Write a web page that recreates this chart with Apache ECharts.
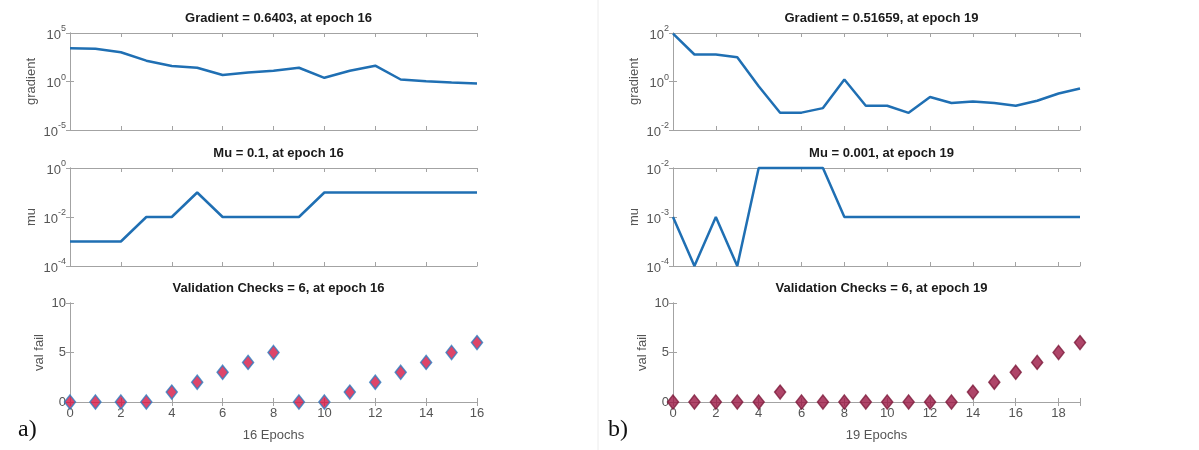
<!DOCTYPE html>
<html>
<head>
<meta charset="utf-8">
<script src="https://cdn.jsdelivr.net/npm/echarts@6/dist/echarts.min.js"></script>
<style>
  html, body { margin: 0; padding: 0; background: #fff; }
  #main { width: 1199px; height: 450px; }
</style>
</head>
<body>
<div id="main"></div>
<script>
// run a) : 16 epochs
const epochsA = [0, 1, 2, 3, 4, 5, 6, 7, 8, 9, 10, 11, 12, 13, 14, 15, 16];
const gradA = [2750, 2350, 1050, 140, 40, 26, 4.6, 8.7, 13, 26, 2.4, 13, 43, 1.6, 1.07, 0.8, 0.6403];
const muA = [0.001, 0.001, 0.001, 0.01, 0.01, 0.1, 0.01, 0.01, 0.01, 0.01, 0.1, 0.1, 0.1, 0.1, 0.1, 0.1, 0.1];
const valA = [0, 0, 0, 0, 1, 2, 3, 4, 5, 0, 0, 1, 2, 3, 4, 5, 6];

// run b) : 19 epochs
const epochsB = [0, 1, 2, 3, 4, 5, 6, 7, 8, 9, 10, 11, 12, 13, 14, 15, 16, 17, 18, 19];
const gradB = [95, 13, 13, 10, 0.64, 0.051, 0.052, 0.08, 1.2, 0.1, 0.1, 0.051, 0.23, 0.13, 0.15, 0.13, 0.1, 0.16, 0.32, 0.51659];
const muB = [0.001, 0.0001, 0.001, 0.0001, 0.01, 0.01, 0.01, 0.01, 0.001, 0.001, 0.001, 0.001, 0.001, 0.001, 0.001, 0.001, 0.001, 0.001, 0.001, 0.001];
const valB = [0, 0, 0, 0, 0, 1, 0, 0, 0, 0, 0, 0, 0, 0, 1, 2, 3, 4, 5, 6];

const titlesA = ['Gradient = 0.6403, at epoch 16', 'Mu = 0.1, at epoch 16', 'Validation Checks = 6, at epoch 16'];
const titlesB = ['Gradient = 0.51659, at epoch 19', 'Mu = 0.001, at epoch 19', 'Validation Checks = 6, at epoch 19'];

const font = '"Liberation Sans", Arial, sans-serif';
const boxColor = '#a3a3a3';
const lineColor = '#1f6fb3';
const labelColor = '#555';

const panelLeft = [70, 673];
const panelWidth = 407;
const rowTop = [33, 168, 303];
const rowHeight = [97, 98, 99];

function pairs(xs, ys) {
  return xs.map((x, i) => [x, ys[i]]);
}

function logLabel(v) {
  let e = Math.round(Math.log10(v));
  return '{b|10}{s|' + e + '}';
}

// MATLAB only labels the even epochs
function epochLabel(v) {
  return v % 2 === 0 ? String(v) : '';
}

let option = {
  animation: false,
  backgroundColor: '#fff',
  textStyle: { fontFamily: font },
  title: [],
  grid: [],
  xAxis: [],
  yAxis: [],
  series: [],
  graphic: [
    { type: 'line', shape: { x1: 598, y1: 0, x2: 598, y2: 450 }, style: { stroke: '#ececec', lineWidth: 1 } },
    { type: 'text', left: 18, top: 418, style: { text: 'a)', font: '24px "Liberation Serif", "Times New Roman", serif', fill: '#111' } },
    { type: 'text', left: 608, top: 418, style: { text: 'b)', font: '24px "Liberation Serif", "Times New Roman", serif', fill: '#111' } }
  ]
};

function addPanel(p, epochs, grad, mu, val, titles, yRanges, markerFill, markerEdge) {
  let maxEpoch = epochs[epochs.length - 1];
  for (let r = 0; r < 3; r++) {
    let gi = p * 3 + r;
    option.grid.push({
      left: panelLeft[p], top: rowTop[r], width: panelWidth, height: rowHeight[r],
      show: false
    });
    option.title.push({
      text: titles[r],
      left: panelLeft[p] + panelWidth / 2,
      top: rowTop[r] - 26,
      textAlign: 'center',
      textStyle: { fontSize: 13, fontWeight: 'bold', color: '#1a1a1a', fontFamily: font }
    });
    let isLast = r === 2;
    let xBase = {
      type: 'value', gridIndex: gi, min: 0, max: maxEpoch, interval: 2,
      axisLine: { show: true, lineStyle: { color: boxColor, width: 1 } },
      axisTick: { show: true, inside: true, length: 4, lineStyle: { color: boxColor } },
      splitLine: { show: false }
    };
    option.xAxis.push(Object.assign({}, xBase, {
      position: 'bottom',
      name: isLast ? maxEpoch + ' Epochs' : '',
      nameLocation: 'middle',
      nameGap: 27,
      nameTextStyle: { fontSize: 13, color: labelColor, fontFamily: font },
      axisLabel: { show: isLast, fontSize: 13, color: labelColor, margin: 5, fontFamily: font, formatter: epochLabel }
    }));
    option.xAxis.push(Object.assign({}, xBase, { position: 'top', axisLabel: { show: false } }));

    let range = yRanges[r];
    let yBase = {
      gridIndex: gi, min: range.min, max: range.max, interval: range.interval,
      axisLine: { show: true, lineStyle: { color: boxColor, width: 1 } },
      axisTick: { show: true, inside: true, length: 4, lineStyle: { color: boxColor } },
      splitLine: { show: false }
    };
    if (range.log) {
      yBase.type = 'log';
      yBase.logBase = 10;
    } else {
      yBase.type = 'value';
    }
    let yNames = ['gradient', 'mu', 'val fail'];
    option.yAxis.push(Object.assign({}, yBase, {
      position: 'left',
      name: yNames[r],
      nameLocation: 'middle',
      nameGap: range.log ? 32 : 24,
      nameRotate: 90,
      nameTextStyle: { fontSize: 13, color: labelColor, fontFamily: font },
      axisLabel: {
        fontSize: 13, color: labelColor, margin: 4, fontFamily: font,
        formatter: range.log ? logLabel : null,
        rich: {
          b: { fontSize: 13, color: labelColor, fontFamily: font, padding: [4, 0, 0, 0] },
          s: { fontSize: 9, color: labelColor, fontFamily: font, verticalAlign: 'top', padding: [0, 0, 6, 0] }
        }
      }
    }));
    option.yAxis.push(Object.assign({}, yBase, { position: 'right', axisLabel: { show: false } }));

    let axisIdx = gi * 2;
    if (r < 2) {
      option.series.push({
        type: 'line',
        xAxisIndex: axisIdx,
        yAxisIndex: axisIdx,
        data: pairs(epochs, r === 0 ? grad : mu),
        showSymbol: false,
        clip: false,
        lineStyle: { color: lineColor, width: 2.5 }
      });
    } else {
      option.series.push({
        type: 'scatter',
        xAxisIndex: axisIdx,
        yAxisIndex: axisIdx,
        data: pairs(epochs, val),
        symbol: 'diamond',
        symbolSize: [11, 14],
        clip: false,
        itemStyle: { color: markerFill, borderColor: markerEdge, borderWidth: 1.5 }
      });
    }
  }
}

addPanel(0, epochsA, gradA, muA, valA, titlesA, [
  { log: true, min: 1e-5, max: 1e5, interval: 5 },
  { log: true, min: 1e-4, max: 1, interval: 2 },
  { log: false, min: 0, max: 10, interval: 5 }
], '#d41643', '#2f7cc0');

addPanel(1, epochsB, gradB, muB, valB, titlesB, [
  { log: true, min: 1e-2, max: 1e2, interval: 2 },
  { log: true, min: 1e-4, max: 1e-2, interval: 1 },
  { log: false, min: 0, max: 10, interval: 5 }
], '#9b1744', '#7d1c3c');

const chart = echarts.init(document.getElementById('main'), null, { renderer: 'canvas' });
chart.setOption(option);
</script>
</body>
</html>
